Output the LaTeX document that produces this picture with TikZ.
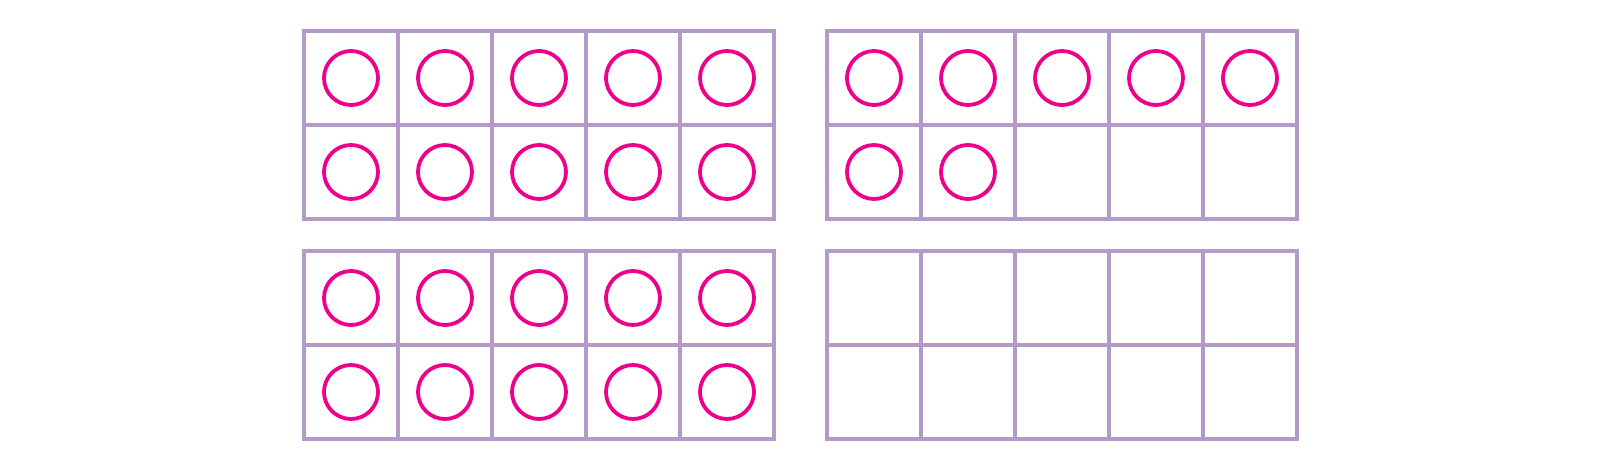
\documentclass[tikz,border=0pt]{standalone}
\usetikzlibrary{positioning}
\definecolor{framepurple}{HTML}{B49AC6}
\definecolor{dotpink}{HTML}{EC008C}
\tikzset{
  cell/.style={draw=framepurple, line width=2pt, minimum size=47pt, inner sep=0pt, outer sep=0pt},
  counter/.style={circle, draw=dotpink, line width=1.9pt, minimum size=27pt, inner sep=0pt}
}
\begin{document}
\begin{tikzpicture}[x=0.5pt,y=-0.5pt]
    \useasboundingbox (0,0) rectangle (1600,470);
    \foreach \f/\x/\y/\n in {a/304/31/10, b/827/31/7, c/304/251/10, d/827/251/0} {
      \foreach \i in {1,...,10} {
        \pgfmathtruncatemacro\col{mod(\i-1,5)}
        \pgfmathtruncatemacro\row{(\i-1)/5}
        \node[cell] (\f\i) at (\x+47+94*\col, \y+47+94*\row) {};
        \ifnum\i>\n\else \node[counter] (dot\f\i) at (\f\i) {};\fi
      }
    }
\end{tikzpicture}
\end{document}
